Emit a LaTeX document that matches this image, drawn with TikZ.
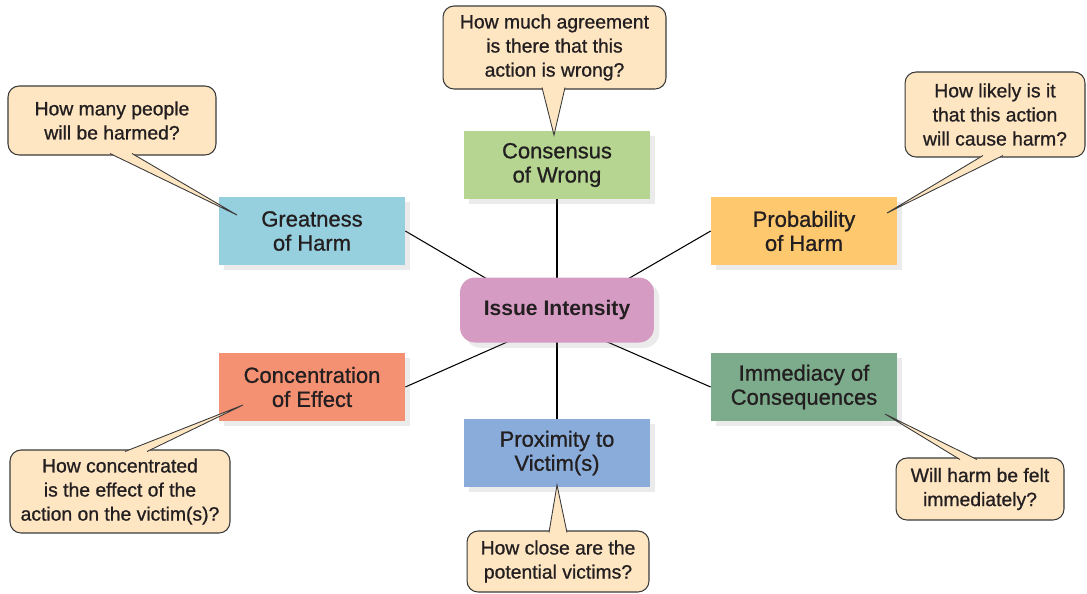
\documentclass[tikz,border=0pt]{standalone}
\usepackage{fontspec}
\setmainfont{Liberation Sans}
\newfontfamily\mediumfont[FakeBold=0.9]{Liberation Sans}
\usetikzlibrary{positioning,shadows,backgrounds,calc}

\definecolor{consensusgreen}{HTML}{B5D591}
\definecolor{greatnessblue}{HTML}{96CFDE}
\definecolor{probabilityorange}{HTML}{FEC86E}
\definecolor{issuepink}{HTML}{D59BC3}
\definecolor{concentrationred}{HTML}{F59173}
\definecolor{immediacygreen}{HTML}{7DAC8C}
\definecolor{proximityblue}{HTML}{89ACDA}
\definecolor{bubblefill}{HTML}{FEE6C3}
\definecolor{bubbleline}{HTML}{3A3A3A}
\definecolor{textdark}{HTML}{231F20}

\begin{document}
\begin{tikzpicture}[x=0.02cm, y=-0.02cm,
    factor/.style={rectangle, minimum width=3.72cm, minimum height=1.36cm, inner sep=0pt, align=center,
        font=\mediumfont\fontsize{12.5}{13.7}\selectfont, text=textdark,
        drop shadow={opacity=0.16, shadow xshift=3pt, shadow yshift=-3pt}},
    question/.style={rectangle, rounded corners=0.22cm, draw=bubbleline, line width=0.6pt, fill=bubblefill,
        inner sep=0pt, align=center, font=\mediumfont\fontsize{11}{13.7}\selectfont, text=textdark},
    pointer/.style={fill=bubblefill, draw=bubbleline, line width=0.5pt},
    spoke/.style={draw=black, line width=0.6pt}]
    \useasboundingbox (0,0) rectangle (1087,593);

    \node[factor, fill=issuepink, rounded corners=0.3cm, minimum width=3.88cm, minimum height=1.3cm,
        font=\fontsize{12}{13.7}\selectfont\bfseries] (issue) at (557,310) {Issue Intensity};
    \coordinate (hub) at (557,320);

    \node[factor, fill=consensusgreen] (consensus) at (557,165) {Consensus\\of Wrong};
    \node[factor, fill=greatnessblue] (greatness) at (312,231) {Greatness\\of Harm};
    \node[factor, fill=probabilityorange] (probability) at (804,231) {Probability\\of Harm};
    \node[factor, fill=concentrationred] (concentration) at (312,387) {Concentration\\of Effect};
    \node[factor, fill=immediacygreen] (immediacy) at (804,387) {Immediacy of\\Consequences};
    \node[factor, fill=proximityblue] (proximity) at (557,453) {Proximity to\\Victim(s)};

    \begin{pgfonlayer}{background}
        \draw[spoke] (hub) -- (consensus.south);
        \draw[spoke] (hub) -- (greatness.east);
        \draw[spoke] (hub) -- (probability.west);
        \draw[spoke] (hub) -- (concentration.east);
        \draw[spoke] (hub) -- (immediacy.west);
        \draw[spoke] (hub) -- (proximity.north);
    \end{pgfonlayer}

    \node[question, minimum width=4.46cm, minimum height=1.66cm] (qconsensus) at (554.5,47.5)
        {How much agreement\\is there that this\\action is wrong?};
    \node[question, minimum width=4.16cm, minimum height=1.38cm] (qgreatness) at (112,120.5)
        {How many people\\will be harmed?};
    \node[question, minimum width=3.6cm, minimum height=1.7cm] (qprobability) at (995,114.5)
        {How likely is it\\that this action\\will cause harm?};
    \node[question, minimum width=4.4cm, minimum height=1.66cm] (qconcentration) at (120,491.5)
        {How concentrated\\is the effect of the\\action on the victim(s)?};
    \node[question, minimum width=3.36cm, minimum height=1.24cm] (qimmediacy) at (980,489)
        {Will harm be felt\\immediately?};
    \node[question, minimum width=3.64cm, minimum height=1.22cm] (qproximity) at (558,561.5)
        {How close are the\\potential victims?};

    \coordinate (tconsensus) at (554,135);
    \coordinate (tgreatness) at (237,215);
    \coordinate (tprobability) at (887,213);
    \coordinate (tconcentration) at (243,405);
    \coordinate (timmediacy) at (885,414);
    \coordinate (tproximity) at (557,485);

    \path[pointer] (542,87.5) -- (tconsensus) -- (565,87.5);
    \path[pointer] (110,153.5) -- (tgreatness) -- (132,153.5);
    \path[pointer] (983,155.5) -- (tprobability) -- (1003,155.5);
    \path[pointer] (125,451.5) -- (tconcentration) -- (147,451.5);
    \path[pointer] (960,459.5) -- (timmediacy) -- (977,459.5);
    \path[pointer] (549,532.5) -- (tproximity) -- (567,532.5);
\end{tikzpicture}
\end{document}
